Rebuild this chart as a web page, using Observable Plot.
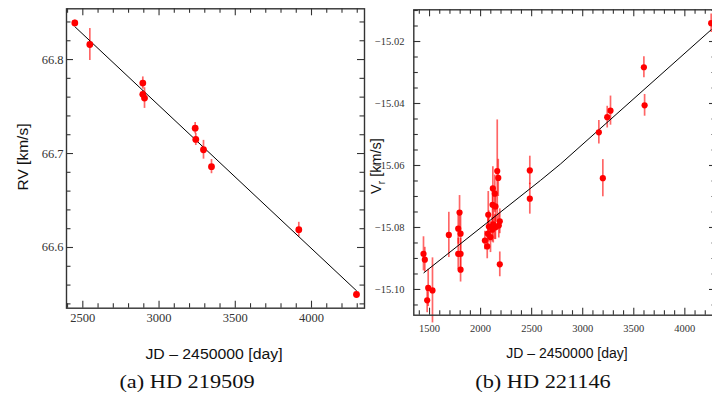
<!DOCTYPE html>
<html><head><meta charset="utf-8">
<script src="https://cdn.jsdelivr.net/npm/d3@7"></script>
<script src="https://cdn.jsdelivr.net/npm/@observablehq/plot@0.6"></script>
<style>
html,body{margin:0;padding:0;background:#fff;}
#wrap{position:relative;width:712px;height:401px;overflow:hidden;background:#fff;}
.p{position:absolute;top:0;}
.lab{position:absolute;white-space:nowrap;color:#111;font-family:"Liberation Sans",Arial,sans-serif;line-height:1;}
.cap{position:absolute;white-space:nowrap;color:#111;font-family:"Liberation Serif","Times New Roman",serif;line-height:1;}
</style></head><body>
<div id="wrap">
  <div id="pa" class="p" style="left:0;width:372px;"></div>
  <div id="pb" class="p" style="left:360px;width:370px;"></div>
  <div class="lab" style="left:23px;top:157px;font-size:15.5px;transform:translate(-50%,-50%) rotate(-90deg);">RV [km/s]</div>
  <div class="lab" style="left:378px;top:166px;font-size:14.5px;transform:translate(-50%,-50%) rotate(-90deg);">V<sub style="font-size:0.7em;">r</sub> [km/s]</div>
  <div class="lab" style="left:214px;top:347px;font-size:14px;transform:translateX(-50%) scaleX(1.13);">JD – 2450000 [day]</div>
  <div class="lab" style="left:567px;top:346px;font-size:14px;transform:translateX(-50%);">JD – 2450000 [day]</div>
  <div class="cap" style="left:187px;top:373px;font-size:18px;transform:translateX(-50%) scaleX(1.24);">(a) HD 219509</div>
  <div class="cap" style="left:543px;top:373px;font-size:18px;transform:translateX(-50%) scaleX(1.24);">(b) HD 221146</div>
</div>
<script>
// ---- Panel (a): HD 219509 ----
const jdA  = [2447.5, 2546, 2893.5, 2893.5, 2904.7, 3237, 3241, 3291.6, 3344, 3916.7, 4295];
const rvA  = [66.839, 66.816, 66.775, 66.763, 66.759, 66.727, 66.715, 66.704, 66.686, 66.619, 66.550];
const errA = [0.003, 0.017, 0.0065, 0.004, 0.011, 0.006, 0.0065, 0.010, 0.0075, 0.0078, 0.003];
const fitAjd = [2447.5, 4295];
const fitArv = [66.835, 66.554];
const xTicksA = [2500, 3000, 3500, 4000];
const yTicksA = [66.6, 66.7, 66.8];

// ---- Panel (b): HD 221146 ----
const jdB = [1441, 1454, 1477, 1487, 1529, 1689, 1781, 1781, 1794, 1804, 1804, 1804,
  2042, 2065, 2071, 2075, 2081, 2097, 2114, 2117, 2120, 2124, 2139, 2139, 2146, 2146,
  2163, 2173, 2178, 2188, 2188, 2482, 2482, 3158, 3197, 3240, 3272, 3599, 3606, 4258];
const vrB = [-15.0885, -15.0904, -15.1035, -15.0995, -15.1003, -15.0824, -15.0804, -15.0885,
  -15.0752, -15.0820, -15.0885, -15.0936, -15.0842, -15.0861, -15.0820, -15.0759, -15.0797,
  -15.0831, -15.0807, -15.0727, -15.0674, -15.0790, -15.0691, -15.0799, -15.0732, -15.0799,
  -15.0618, -15.0640, -15.0794, -15.0780, -15.0919, -15.0616, -15.0707, -15.0493, -15.0641,
  -15.0444, -15.0423, -15.0283, -15.0406, -15.0141];
const errB = [0.0055, 0.004, 0.004, 0.006, 0.0105, 0.0073, 0.005, 0.005, 0.0055, 0.006, 0.005,
  0.004, 0.003, 0.004, 0.005, 0.0075, 0.005, 0.005, 0.004, 0.006, 0.007, 0.006, 0.006, 0.004,
  0.005, 0.004, 0.0165, 0.006, 0.004, 0.004, 0.004, 0.0046, 0.005, 0.0038, 0.006, 0.0035,
  0.0047, 0.0034, 0.0035, 0.003];
const fitBjd = [1445, 2587, 2783, 4258];
const fitBvr = [-15.0946, -15.0648, -15.0595, -15.0162];
const xTicksB = [1500, 2000, 2500, 3000, 3500, 4000];
const yTicksB = [-15.10, -15.08, -15.06, -15.04, -15.02];

function minors(lo, hi, step, majors) {
  const n0 = Math.ceil(lo / step - 1e-9), n1 = Math.floor(hi / step + 1e-9);
  const out = [];
  for (let n = n0; n <= n1; n++) {
    const v = +(n * step).toFixed(6);
    if (!majors.some(m => Math.abs(m - v) < step / 10)) out.push(v);
  }
  return out;
}

const SERIF = "Liberation Serif, Times New Roman, serif";

function panel(o) {
  const iw = o.width - o.marginLeft - o.marginRight;
  const ih = o.height - o.marginTop - o.marginBottom;
  const data = o.xs.map((x, i) => ({x, y: o.ys[i], e: o.es[i]}));
  const fit = o.fx.map((x, i) => ({x, y: o.fy[i]}));
  const mx = minors(o.xdom[0], o.xdom[1], o.xstep, o.xt);
  const my = minors(o.ydom[0], o.ydom[1], o.ystep, o.yt);
  const tk = {stroke: "#333", strokeWidth: 1.1};
  const M = 7, m = 4.5;
  const txt = {fontFamily: SERIF, fontSize: o.fs, fill: "#333"};
  const svg = Plot.plot({
    width: o.width, height: o.height,
    marginLeft: o.marginLeft, marginRight: o.marginRight,
    marginTop: o.marginTop, marginBottom: o.marginBottom,
    x: {domain: o.xdom}, y: {domain: o.ydom},
    style: {background: "transparent", overflow: "visible", maxWidth: "none", fontFamily: SERIF, fontSize: o.fs + "px"},
    marks: [
      Plot.tickX(o.xt, {x: d => d, insetTop: ih - M, ...tk}),
      Plot.tickX(o.xt, {x: d => d, insetBottom: ih - M, ...tk}),
      Plot.tickX(mx, {x: d => d, insetTop: ih - m, ...tk}),
      Plot.tickX(mx, {x: d => d, insetBottom: ih - m, ...tk}),
      Plot.tickY(o.yt, {y: d => d, insetRight: iw - M, ...tk}),
      Plot.tickY(o.yt, {y: d => d, insetLeft: iw - M, ...tk}),
      Plot.tickY(my, {y: d => d, insetRight: iw - m, ...tk}),
      Plot.tickY(my, {y: d => d, insetLeft: iw - m, ...tk}),
      Plot.axisX({ticks: o.xt, tickSize: 0, tickPadding: o.xpad, tickFormat: d => String(d), label: null, ...txt}),
      Plot.axisY({ticks: o.yt, tickSize: 0, tickPadding: o.ypad, tickFormat: d3.format(o.yfmt), label: null, ...txt}),
      Plot.ruleX(data, {x: "x", y1: d => d.y - d.e, y2: d => d.y + d.e, stroke: "red", strokeOpacity: 0.6, strokeWidth: 1.7}),
      Plot.line(fit, {x: "x", y: "y", stroke: "black", strokeWidth: 1}),
      Plot.dot(data, {x: "x", y: "y", r: o.r, fill: "red"}),
      Plot.frame({stroke: "#333", strokeWidth: 1.4})
    ]
  });
  svg.querySelectorAll("text").forEach(t => { t.style.fontFamily = SERIF; });
  return svg;
}

document.getElementById("pa").append(panel({
  width: 372, height: 330, marginLeft: 66, marginRight: 8, marginTop: 8.3, marginBottom: 22.3,
  xdom: [2393, 4347.6], ydom: [66.5354, 66.854], xstep: 100, ystep: 0.02,
  xt: xTicksA, yt: yTicksA, yfmt: ".1f", fs: 12.5, xpad: 5, ypad: 3, r: 3.4,
  xs: jdA, ys: rvA, es: errA, fx: fitAjd, fy: fitArv
}));

document.getElementById("pb").append(panel({
  width: 370, height: 345, marginLeft: 53.3, marginRight: 14, marginTop: 9.3, marginBottom: 30.3,
  xdom: [1346, 4310], ydom: [-15.1083, -15.00977], xstep: 100, ystep: 0.005,
  xt: xTicksB, yt: yTicksB, yfmt: ".2f", fs: 10.5, xpad: 9, ypad: 9.3, r: 3.1,
  xs: jdB, ys: vrB, es: errB, fx: fitBjd, fy: fitBvr
}));
</script>
</body></html>
